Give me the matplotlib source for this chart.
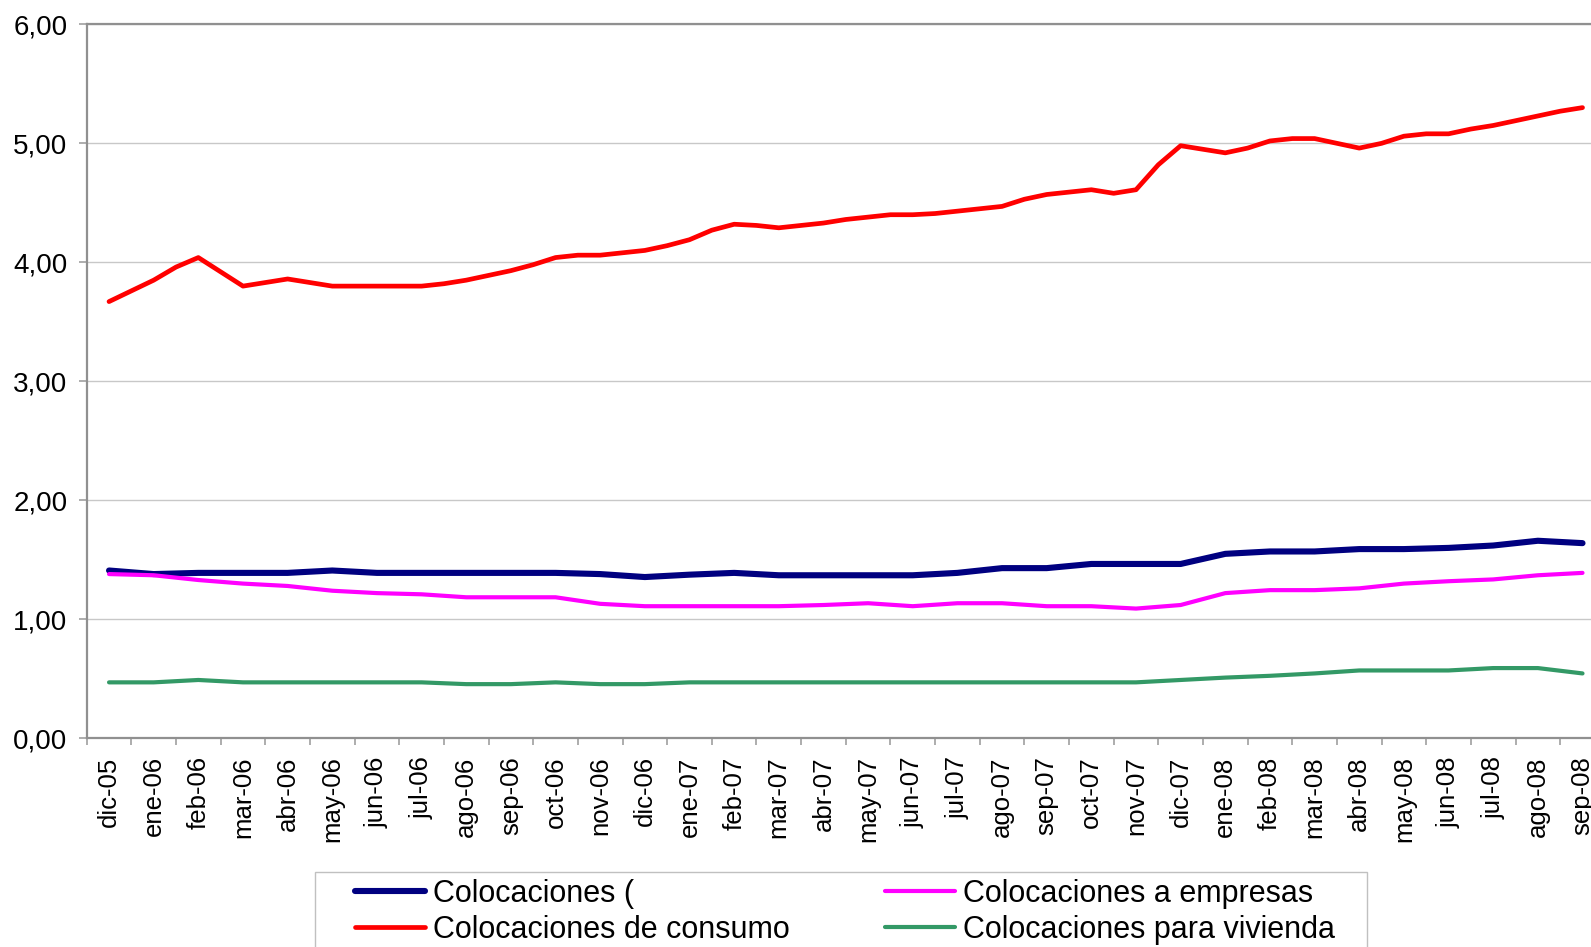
import numpy as np
import matplotlib
matplotlib.use("Agg")
import matplotlib.pyplot as plt
from matplotlib.ticker import FuncFormatter, FixedLocator
from matplotlib.patches import Rectangle

plt.rcParams['font.family'] = ['Liberation Sans', 'DejaVu Sans']

meses = ["dic-05",
         "ene-06", "feb-06", "mar-06", "abr-06", "may-06", "jun-06",
         "jul-06", "ago-06", "sep-06", "oct-06", "nov-06", "dic-06",
         "ene-07", "feb-07", "mar-07", "abr-07", "may-07", "jun-07",
         "jul-07", "ago-07", "sep-07", "oct-07", "nov-07", "dic-07",
         "ene-08", "feb-08", "mar-08", "abr-08", "may-08", "jun-08",
         "jul-08", "ago-08", "sep-08"]

# series mensuales
totales = [1.41, 1.38, 1.39, 1.39, 1.39, 1.41, 1.39, 1.39, 1.39, 1.39, 1.39,
           1.38, 1.355, 1.375, 1.39, 1.37, 1.37, 1.37, 1.37, 1.39, 1.43,
           1.43, 1.465, 1.465, 1.465, 1.55, 1.57, 1.57, 1.59, 1.59, 1.60,
           1.62, 1.66, 1.64]
empresas = [1.38, 1.37, 1.33, 1.30, 1.28, 1.24, 1.22, 1.21, 1.185, 1.185,
            1.185, 1.13, 1.11, 1.11, 1.11, 1.11, 1.12, 1.135, 1.11, 1.135,
            1.135, 1.11, 1.11, 1.09, 1.12, 1.22, 1.245, 1.245, 1.26, 1.30,
            1.32, 1.335, 1.37, 1.39]
vivienda = [0.47, 0.47, 0.49, 0.47, 0.47, 0.47, 0.47, 0.47, 0.455, 0.455,
            0.47, 0.455, 0.455, 0.47, 0.47, 0.47, 0.47, 0.47, 0.47, 0.47,
            0.47, 0.47, 0.47, 0.47, 0.49, 0.51, 0.525, 0.545, 0.57, 0.57,
            0.57, 0.59, 0.59, 0.545]
# consumo: datos cada medio mes
consumo = [3.67, 3.76, 3.85, 3.96, 4.04, 3.92, 3.80, 3.83, 3.86, 3.83,
           3.80, 3.80, 3.80, 3.80, 3.80, 3.82, 3.85, 3.89, 3.93, 3.98,
           4.04, 4.06, 4.06, 4.08, 4.10, 4.14, 4.19, 4.27, 4.32, 4.31,
           4.29, 4.31, 4.33, 4.36, 4.38, 4.40, 4.40, 4.41, 4.43, 4.45,
           4.47, 4.53, 4.57, 4.59, 4.61, 4.58, 4.61, 4.82, 4.98, 4.95,
           4.92, 4.96, 5.02, 5.04, 5.04, 5.00, 4.96, 5.00, 5.06, 5.08,
           5.08, 5.12, 5.15, 5.19, 5.23, 5.27, 5.30]

x_mes = np.arange(len(meses))
x_medio = np.arange(len(consumo)) / 2

W, H = 1591, 947
fig = plt.figure(figsize=(W / 100, H / 100), dpi=100)
ax = fig.add_axes([0.0545, 0.2204, 0.9542, 0.7539])

kw = dict(solid_joinstyle='round', solid_capstyle='round')
l1, = ax.plot(x_mes, totales, color='#000080', lw=4.4, label='Colocaciones (', **kw)
l2, = ax.plot(x_mes, empresas, color='#FF00FF', lw=3.0, label='Colocaciones a empresas', **kw)
l3, = ax.plot(x_medio, consumo, color='#FF0000', lw=3.4, label='Colocaciones de consumo', **kw)
l4, = ax.plot(x_mes, vivienda, color='#339966', lw=3.0, label='Colocaciones para vivienda', **kw)

ax.set_xlim(-0.5, len(meses) - 0.5)
ax.set_ylim(0, 6)
ax.set_yticks(np.arange(0, 7, 1))
ax.yaxis.set_major_formatter(FuncFormatter(lambda v, p: f"{v:.2f}".replace('.', ',')))
ax.grid(axis='y', color='#c8c8c8', lw=1.0)
ax.set_axisbelow(True)

ax.set_xticks(x_mes)
ax.set_xticklabels(meses, rotation=90)
ax.xaxis.set_minor_locator(FixedLocator(np.arange(-0.5, len(meses), 1)))
ax.tick_params(axis='x', which='major', length=0, pad=13, labelsize=18.5)
ax.tick_params(axis='x', which='minor', length=5, width=1.2, color='#a0a0a0')
ax.tick_params(axis='y', length=6, width=1.2, color='#a0a0a0', pad=8, labelsize=20)

for s in ['left', 'top', 'bottom']:
    ax.spines[s].set_color('#909090')
    ax.spines[s].set_linewidth(1.6)
ax.spines['right'].set_visible(False)

# caja de la leyenda (cortada abajo como en el original)
fig.add_artist(Rectangle((315 / W, -0.05), (1367 - 315) / W, 0.05 + 1 - 872 / H,
                         transform=fig.transFigure, fill=False,
                         edgecolor='#c0c0c0', lw=1.0))

legkw = dict(loc='upper left', frameon=False, fontsize=22, handlelength=2.3,
             handletextpad=0.26, labelspacing=0.2, borderpad=0, borderaxespad=0)
fig.legend(handles=[l1, l3], bbox_to_anchor=(355 / W, 1 - 879 / H), **legkw)
fig.legend(handles=[l2, l4], bbox_to_anchor=(885 / W, 1 - 879 / H), **legkw)

fig.savefig('out.png', dpi=100)
